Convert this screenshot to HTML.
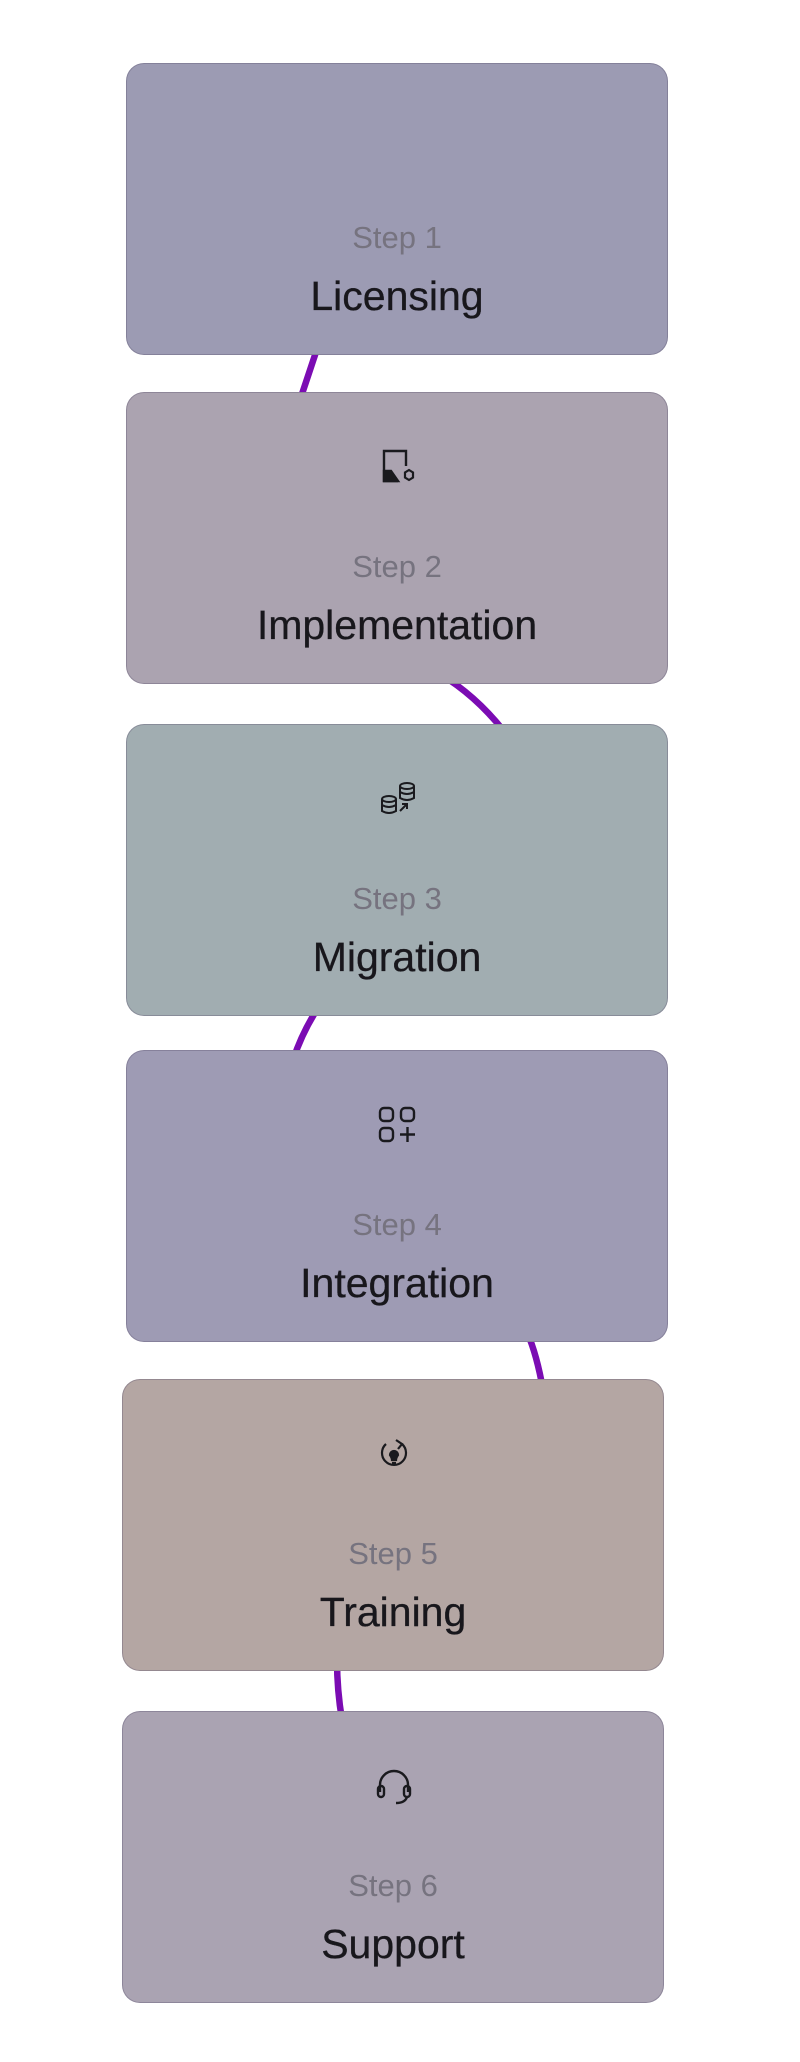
<!DOCTYPE html>
<html><head><meta charset="utf-8"><style>
html,body{margin:0;padding:0;background:#fff;}
body{width:800px;height:2062px;position:relative;overflow:hidden;font-family:"Liberation Sans",sans-serif;}
.card{position:absolute;width:542px;height:292px;border-radius:18px;border:1px solid rgba(90,80,110,0.35);box-sizing:border-box;}
.step{position:absolute;left:0;right:0;top:156px;text-align:center;font-size:31px;color:#76737f;}
.title{position:absolute;left:0;right:0;top:209px;text-align:center;font-size:41px;color:#18171c;-webkit-text-stroke:0.3px #18171c;}
.icon{position:absolute;left:251px;top:54px;width:40px;height:40px;}
svg.lines{position:absolute;left:0;top:0;}
</style></head><body>
<svg class="lines" width="800" height="2062">
<g fill="none" stroke="#7b0cb3" stroke-width="6.5">
<path d="M320 340 Q310 370 300 400"/>
<path d="M440 674 Q475 695 503 730"/>
<path d="M320 1005 Q303 1030 293 1060"/>
<path d="M527 1332 Q537 1355 543 1390"/>
<path d="M337 1660 Q337 1690 342 1720"/>
</g></svg>

<div class="card" style="left:126px;top:63px;background:#9c9bb3;">
<div class="step">Step 1</div><div class="title">Licensing</div></div>

<div class="card" style="left:126px;top:392px;background:#aba3b0;">
<svg class="icon" viewBox="0 0 40 40" fill="none" stroke="#1a1a1e" stroke-width="2.4">
<path d="M28 19 V4 H6 V34 H20"/><path d="M6 24 H13 L20 34 H6 Z" fill="#1a1a1e"/>
<polygon points="31,23 35,25.5 35,30.5 31,33 27,30.5 27,25.5" stroke-width="2.2"/>
</svg>
<div class="step">Step 2</div><div class="title">Implementation</div></div>

<div class="card" style="left:126px;top:724px;background:#a1adb1;">
<svg class="icon" viewBox="0 0 40 40" fill="none" stroke="#1a1a1e" stroke-width="2">
<ellipse cx="29" cy="7" rx="7" ry="3"/><path d="M22 7 V19 Q29 23 36 19 V7 M22 13 Q29 17 36 13"/>
<ellipse cx="11" cy="20" rx="7" ry="3"/><path d="M4 20 V32 Q11 36 18 32 V20 M4 26 Q11 30 18 26"/>
<path d="M22 32 L29 25 M24 25 H29 V30"/>
</svg>
<div class="step">Step 3</div><div class="title">Migration</div></div>

<div class="card" style="left:126px;top:1050px;background:#9e9bb4;">
<svg class="icon" viewBox="0 0 40 40" fill="none" stroke="#1a1a1e" stroke-width="2.4">
<rect x="2" y="3" width="13" height="13" rx="4"/><rect x="23" y="3" width="13" height="13" rx="4"/>
<rect x="2" y="23" width="13" height="13" rx="4"/><path d="M29.5 22 V37 M22 29.5 H37"/>
</svg>
<div class="step">Step 4</div><div class="title">Integration</div></div>

<div class="card" style="left:122px;top:1379px;background:#b4a6a3;">
<svg class="icon" viewBox="0 0 40 40" fill="none" stroke="#1a1a1e" stroke-width="2.2">
<path d="M12 10 A12 12 0 1 0 28 10"/><path d="M22 6 L28 10 L24 15"/>
<path d="M16 21 A4 4 0 1 1 24 21 Q22 24 22 26 H18 Q18 24 16 21Z" fill="#1a1a1e"/><path d="M18 29 H22"/>
</svg>
<div class="step">Step 5</div><div class="title">Training</div></div>

<div class="card" style="left:122px;top:1711px;background:#aaa3b2;">
<svg class="icon" viewBox="0 0 40 40" fill="none" stroke="#1a1a1e" stroke-width="2.4">
<path d="M6 26 V19 A14 14 0 0 1 34 19 V26"/><rect x="4" y="20" width="6" height="11" rx="3"/><rect x="30" y="20" width="6" height="11" rx="3"/>
<path d="M33 31 Q31 37 22 37"/>
</svg>
<div class="step">Step 6</div><div class="title">Support</div></div>
</body></html>
